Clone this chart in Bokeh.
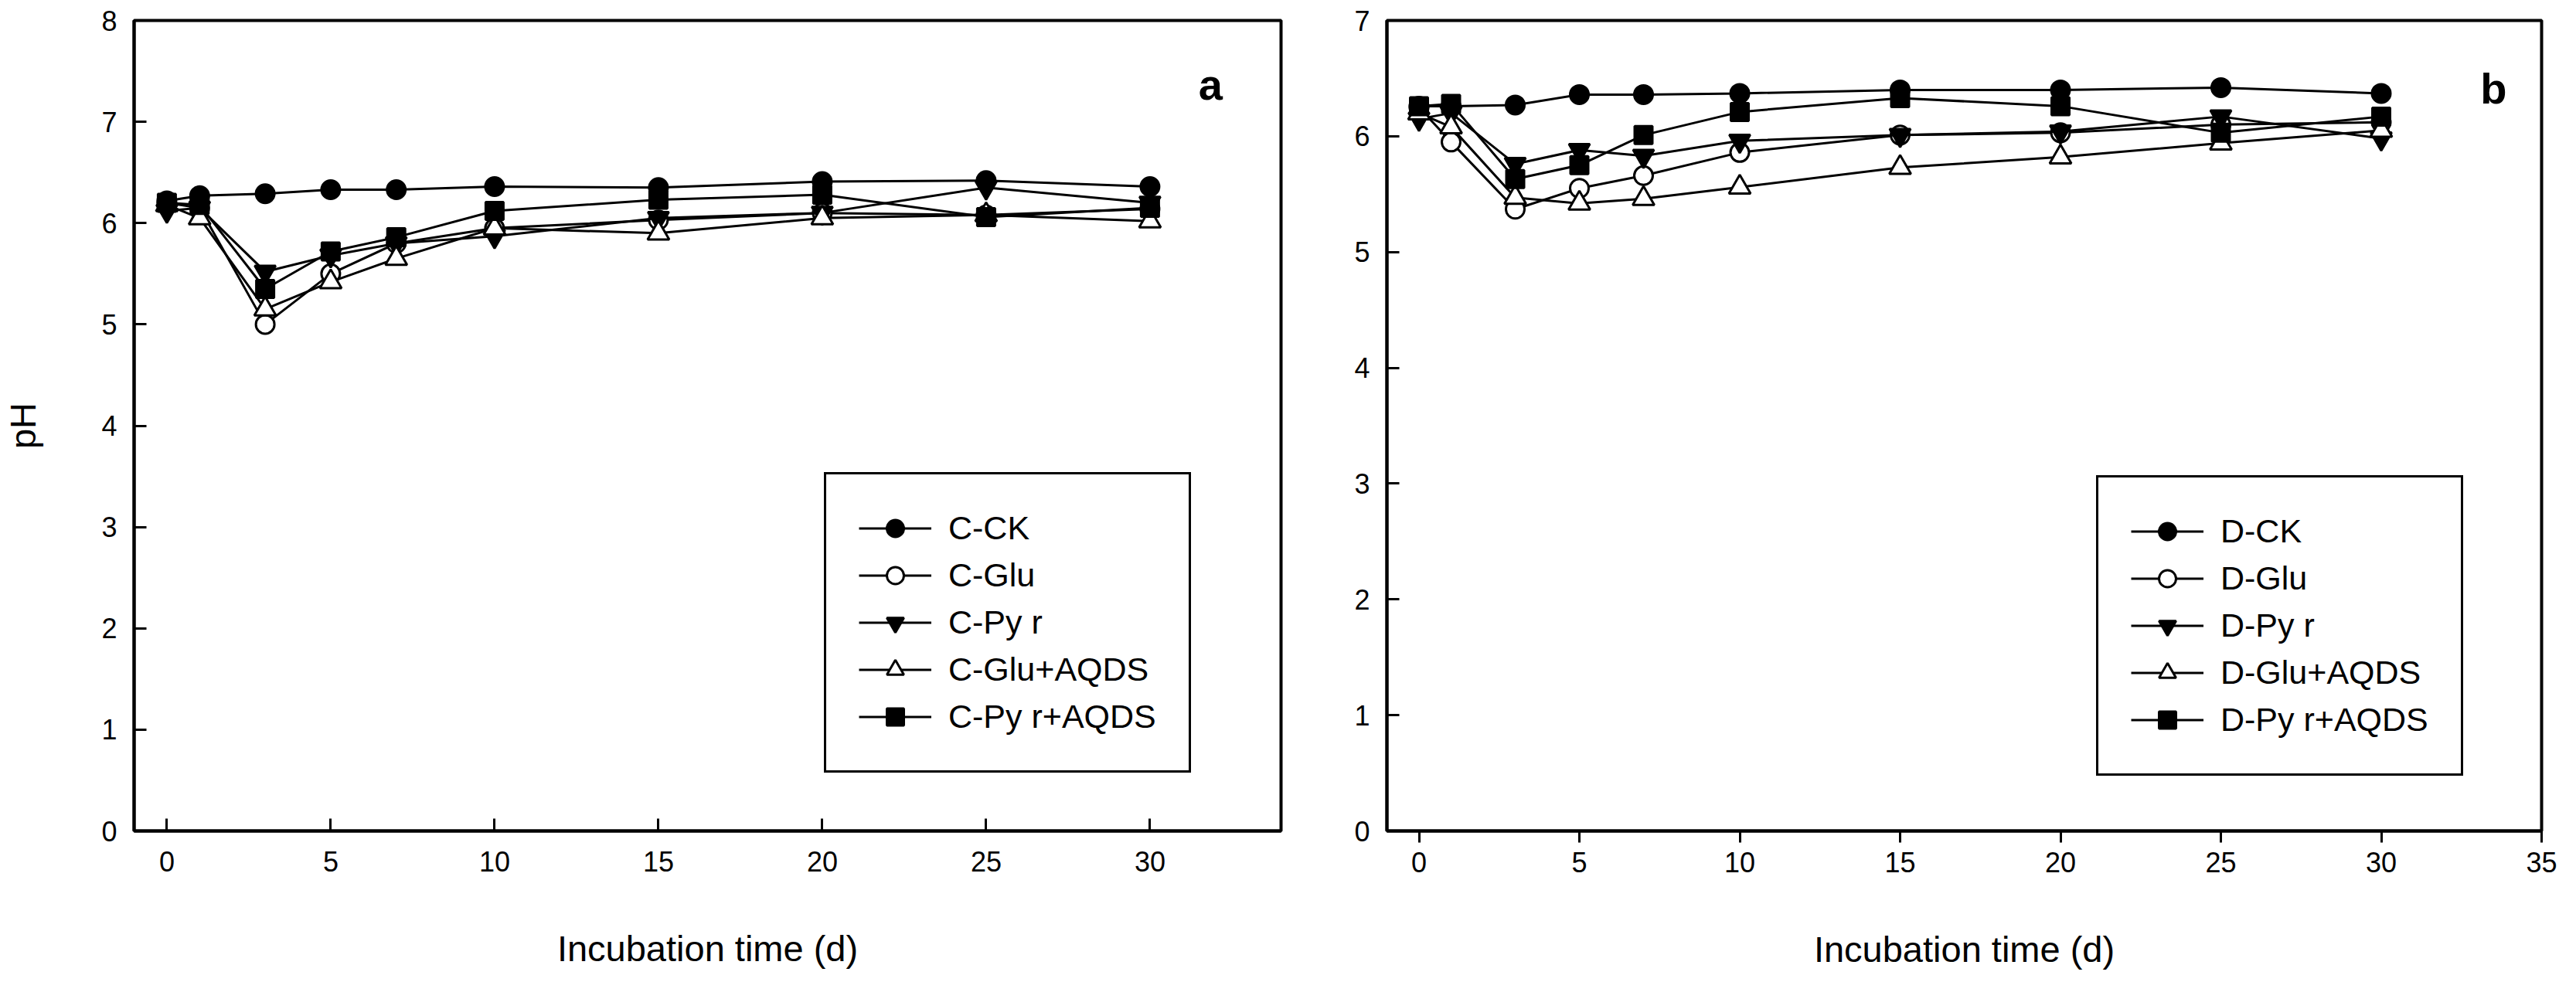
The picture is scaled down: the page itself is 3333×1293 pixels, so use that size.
from bokeh.plotting import figure
from bokeh.layouts import row
from bokeh.models import Range1d, FixedTicker, Legend, LegendItem, Label
from bokeh.embed import file_html
from bokeh.resources import INLINE

# ---------------- data ----------------
days = [0, 1, 3, 5, 7, 10, 15, 20, 25, 30]

labels_a = ["C-CK", "C-Glu", "C-Py r", "C-Glu+AQDS", "C-Py r+AQDS"]
c_ck = [6.22, 6.27, 6.29, 6.33, 6.33, 6.36, 6.35, 6.41, 6.42, 6.36]
c_glu = [6.20, 6.15, 5.00, 5.50, 5.80, 5.95, 6.03, 6.10, 6.08, 6.14]
c_pyr = [6.12, 6.15, 5.52, 5.68, 5.80, 5.87, 6.05, 6.10, 6.35, 6.20]
c_glu_aqds = [6.18, 6.05, 5.15, 5.42, 5.65, 5.95, 5.90, 6.05, 6.08, 6.02]
c_pyr_aqds = [6.20, 6.18, 5.35, 5.72, 5.86, 6.12, 6.23, 6.28, 6.06, 6.15]

labels_b = ["D-CK", "D-Glu", "D-Py r", "D-Glu+AQDS", "D-Py r+AQDS"]
d_ck = [6.26, 6.26, 6.27, 6.36, 6.36, 6.37, 6.40, 6.40, 6.42, 6.37]
d_glu = [6.25, 5.95, 5.37, 5.55, 5.66, 5.86, 6.01, 6.03, 6.10, 6.12]
d_pyr = [6.15, 6.20, 5.76, 5.88, 5.83, 5.96, 6.01, 6.04, 6.17, 5.98]
d_glu_aqds = [6.20, 6.08, 5.47, 5.42, 5.46, 5.56, 5.73, 5.82, 5.94, 6.05]
d_pyr_aqds = [6.26, 6.28, 5.63, 5.75, 6.01, 6.21, 6.33, 6.26, 6.03, 6.17]

xticks_a = [0, 5, 10, 15, 20, 25, 30]
xticks_b = [0, 5, 10, 15, 20, 25, 30, 35]
yticks_a = [0, 1, 2, 3, 4, 5, 6, 7, 8]
yticks_b = [0, 1, 2, 3, 4, 5, 6, 7]

# ---------------- styles ----------------
FONT = "'Liberation Sans', Arial, sans-serif"
markers = ["circle", "circle", "inverted_triangle", "triangle", "square"]
fills = ["black", "white", "black", "white", "black"]
sizes = [24, 24, 27, 28, 23]


def make_panel(series, labels, xr, yr, xticks, yticks, w, h, borders,
               ticks_out_x, ylabel, tag, tag_pos, legend_loc):
    bl, br, bt, bb = borders
    p = figure(width=w, height=h, x_range=Range1d(*xr), y_range=Range1d(*yr),
               output_backend="svg", toolbar_location=None,
               min_border_left=bl, min_border_right=br,
               min_border_top=bt, min_border_bottom=bb)
    p.background_fill_color = "white"
    p.border_fill_color = "white"
    p.outline_line_color = "black"
    p.outline_line_alpha = 1
    p.outline_line_width = 4
    p.xgrid.visible = False
    p.ygrid.visible = False

    for ax in (p.xaxis[0], p.yaxis[0]):
        ax.axis_line_width = 4
        ax.axis_line_color = "black"
        ax.major_tick_line_width = 3
        ax.major_tick_line_color = "black"
        ax.minor_tick_line_color = None
        ax.major_label_text_font = FONT
        ax.major_label_text_font_size = "36px"
        ax.major_label_text_color = "black"
        ax.axis_label_text_font = FONT
        ax.axis_label_text_font_size = "47px"
        ax.axis_label_text_font_style = "normal"
        ax.axis_label_text_color = "black"

    p.xaxis.ticker = FixedTicker(ticks=xticks)
    p.yaxis.ticker = FixedTicker(ticks=yticks)
    if ticks_out_x:
        p.xaxis.major_tick_in = 0
        p.xaxis.major_tick_out = 15
        p.xaxis.major_label_standoff = 12
    else:
        p.xaxis.major_tick_in = 16
        p.xaxis.major_tick_out = 0
        p.xaxis.major_label_standoff = 26
    p.yaxis.major_tick_in = 16
    p.yaxis.major_tick_out = 0
    p.yaxis.major_label_standoff = 22
    p.xaxis.axis_label = "Incubation time (d)"
    p.xaxis.axis_label_standoff = 70
    if ylabel:
        p.yaxis.axis_label = ylabel
        p.yaxis.axis_label_standoff = 72

    items = []
    for ys, lab, mk, fc, sz in zip(series, labels, markers, fills, sizes):
        lr = p.line(days, ys, line_color="black", line_width=3)
        sr = p.scatter(days, ys, marker=mk, size=sz, fill_color=fc,
                       line_color="black", line_width=3)
        items.append(LegendItem(label=lab, renderers=[lr, sr]))

    leg = Legend(items=items, location=legend_loc)
    leg.border_line_color = "black"
    leg.border_line_alpha = 1
    leg.border_line_width = 3
    leg.background_fill_color = "white"
    leg.background_fill_alpha = 1
    leg.padding = 42
    leg.margin = 0
    leg.spacing = 6
    leg.glyph_width = 94
    leg.glyph_height = 55
    leg.label_height = 40
    leg.label_standoff = 22
    leg.label_text_font = FONT
    leg.label_text_font_size = "43px"
    leg.label_text_color = "black"
    p.add_layout(leg)

    p.add_layout(Label(x=tag_pos[0], y=tag_pos[1], text=tag,
                       text_font=FONT, text_font_size="56px",
                       text_font_style="bold", text_align="center",
                       text_baseline="middle", text_color="black"))
    return p


pa = make_panel([c_ck, c_glu, c_pyr, c_glu_aqds, c_pyr_aqds], labels_a,
                (-1, 34), (0, 8), xticks_a, yticks_a, 1702, 1277,
                (164, 45, 26, 202), False, "pH", "a", (31.85, 7.37), (893, 75))
pb = make_panel([d_ck, d_glu, d_pyr, d_glu_aqds, d_pyr_aqds], labels_b,
                (-1, 35), (0, 7), xticks_b, yticks_b, 1615, 1277,
                (92, 29, 26, 202), True, None, "b", (33.5, 6.41), (918, 71))

layout = row(pa, pb, spacing=0)
open("out.html", "w").write(file_html(layout, INLINE))
